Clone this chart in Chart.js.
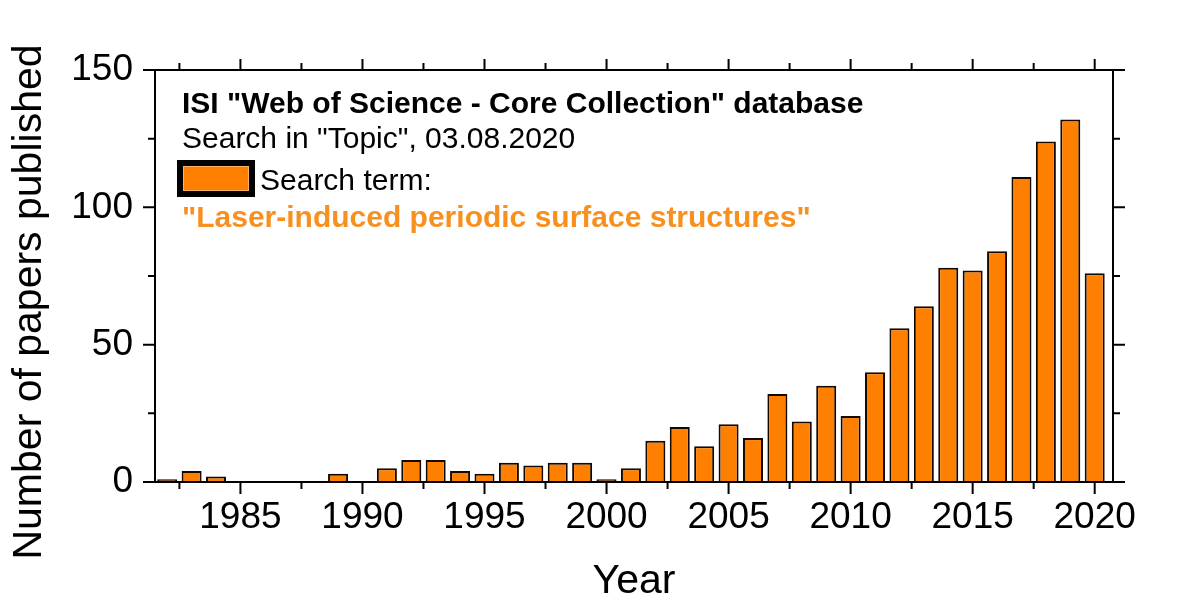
<!DOCTYPE html>
<html><head><meta charset="utf-8">
<script src="https://cdn.jsdelivr.net/npm/chart.js@4.4.0/dist/chart.umd.min.js"></script>
<style>html,body{margin:0;padding:0;background:#fff;}#wrap{width:1200px;height:606px;position:relative;}</style>
</head><body><div id="wrap"><canvas id="c"></canvas></div>
<script>
const years = [1982,1983,1984,1985,1986,1987,1988,1989,1990,1991,1992,1993,1994,1995,1996,1997,1998,1999,2000,2001,2002,2003,2004,2005,2006,2007,2008,2009,2010,2011,2012,2013,2014,2015,2016,2017,2018,2019,2020];
const papers = [1,4,2,0,0,0,0,3,0,5,8,8,4,3,7,6,7,7,1,5,15,20,13,21,16,32,22,35,24,40,56,64,78,77,84,111,124,132,76];
const xMajorTicks = [1985,1990,1995,2000,2005,2010,2015,2020];
const xMinorTicks = [1982.5,1987.5,1992.5,1997.5,2002.5,2007.5,2012.5,2017.5];
const yMajorTicks = [0,50,100,150];
const yMinorTicks = [25,75,125];
const seriesName = 'Search term:';
const titleLine1 = 'ISI "Web of Science - Core Collection" database';
const titleLine2 = 'Search in "Topic", 03.08.2020';
const searchTerm = '"Laser-induced periodic surface structures"';
const xTitle = 'Year';
const yTitle = 'Number of papers published';

const FAM = '"Liberation Sans", Arial, Helvetica, sans-serif';
const BAR = '#ff8000';
const TXT_OR = '#f7901e';

const framePlugin = {
  id: 'frame',
  afterDraw(chart) {
    const ctx = chart.ctx;
    const a = chart.chartArea;
    const xs = chart.scales.x, ys = chart.scales.y;
    ctx.save();
    ctx.strokeStyle = '#000';
    ctx.lineWidth = 2;
    ctx.lineCap = 'butt';
    ctx.beginPath();
    ctx.rect(a.left, a.top, a.right - a.left, a.bottom - a.top);
    ctx.stroke();
    ctx.beginPath();
    const MAJ = 12, MIN = 7;
    xMajorTicks.forEach(v => { const p = xs.getPixelForValue(v);
      ctx.moveTo(p, a.bottom); ctx.lineTo(p, a.bottom + MAJ);
      ctx.moveTo(p, a.top); ctx.lineTo(p, a.top - MAJ + 1); });
    xMinorTicks.forEach(v => { const p = xs.getPixelForValue(v);
      ctx.moveTo(p, a.bottom); ctx.lineTo(p, a.bottom + MIN);
      ctx.moveTo(p, a.top); ctx.lineTo(p, a.top - MIN); });
    yMajorTicks.forEach(v => { const p = ys.getPixelForValue(v);
      ctx.moveTo(a.left, p); ctx.lineTo(a.left - MAJ, p);
      ctx.moveTo(a.right, p); ctx.lineTo(a.right + MAJ, p); });
    yMinorTicks.forEach(v => { const p = ys.getPixelForValue(v);
      ctx.moveTo(a.left, p); ctx.lineTo(a.left - MIN, p);
      ctx.moveTo(a.right, p); ctx.lineTo(a.right + MIN, p); });
    ctx.stroke();

    // y axis title
    ctx.save();
    ctx.translate(41, 302);
    ctx.rotate(-Math.PI / 2);
    ctx.font = '41px ' + FAM;
    ctx.fillStyle = '#000';
    ctx.textAlign = 'center';
    ctx.textBaseline = 'alphabetic';
    ctx.fillText(yTitle, 0, 0);
    ctx.restore();

    // annotation
    ctx.textAlign = 'left';
    ctx.textBaseline = 'alphabetic';
    ctx.fillStyle = '#000';
    ctx.font = 'bold 30px ' + FAM;
    ctx.fillText(titleLine1, 182, 113);
    ctx.font = '30px ' + FAM;
    ctx.fillText(titleLine2, 182, 148);
    // legend swatch
    ctx.fillStyle = '#000';
    ctx.fillRect(177, 160, 78, 37);
    ctx.fillStyle = BAR;
    ctx.fillRect(183, 166, 66, 25);
    ctx.strokeStyle = '#ffb266';
    ctx.lineWidth = 1;
    ctx.strokeRect(183.5, 166.5, 65, 24);
    ctx.fillStyle = '#000';
    ctx.font = '30px ' + FAM;
    ctx.fillText(seriesName, 260, 190);
    ctx.fillStyle = TXT_OR;
    ctx.font = 'bold 30px ' + FAM;
    ctx.fillText(searchTerm, 182, 227);
    ctx.restore();
  }
};

new Chart(document.getElementById('c'), {
  type: 'bar',
  data: {
    datasets: [{
      label: seriesName,
      data: years.map((y, i) => ({x: y, y: papers[i]})),
      backgroundColor: BAR,
      borderColor: '#140800',
      borderWidth: 2,
      barPercentage: 0.82,
      categoryPercentage: 1.0
    }]
  },
  options: {
    responsive: true,
    maintainAspectRatio: false,
    animation: false,
    events: [],
    layout: { padding: { left: 0, top: 70, right: 87, bottom: 0 } },
    plugins: { legend: { display: false }, tooltip: { enabled: false } },
    scales: {
      x: {
        type: 'linear', min: 1981.5, max: 2020.75, position: 'bottom', offset: false,
        afterBuildTicks: s => { s.ticks = xMajorTicks.map(v => ({value: v})); },
        afterFit: s => { s.height = 124; },
        grid: { display: false, drawTicks: false, offset: false },
        border: { display: false },
        ticks: { font: { family: FAM, size: 37 }, color: '#000', padding: 14, maxRotation: 0, autoSkip: false, callback: v => String(v) },
        title: { display: true, text: xTitle, font: { family: FAM, size: 41 }, color: '#000', padding: { top: 0, bottom: 0 } }
      },
      y: {
        min: 0, max: 150,
        afterBuildTicks: s => { s.ticks = yMajorTicks.map(v => ({value: v})); },
        afterFit: s => { s.width = 155; },
        grid: { display: false, drawTicks: false },
        border: { display: false },
        ticks: { font: { family: FAM, size: 37 }, color: '#000', padding: 22, autoSkip: false, callback: v => String(v) }
      }
    }
  },
  plugins: [framePlugin]
});
</script></body></html>
